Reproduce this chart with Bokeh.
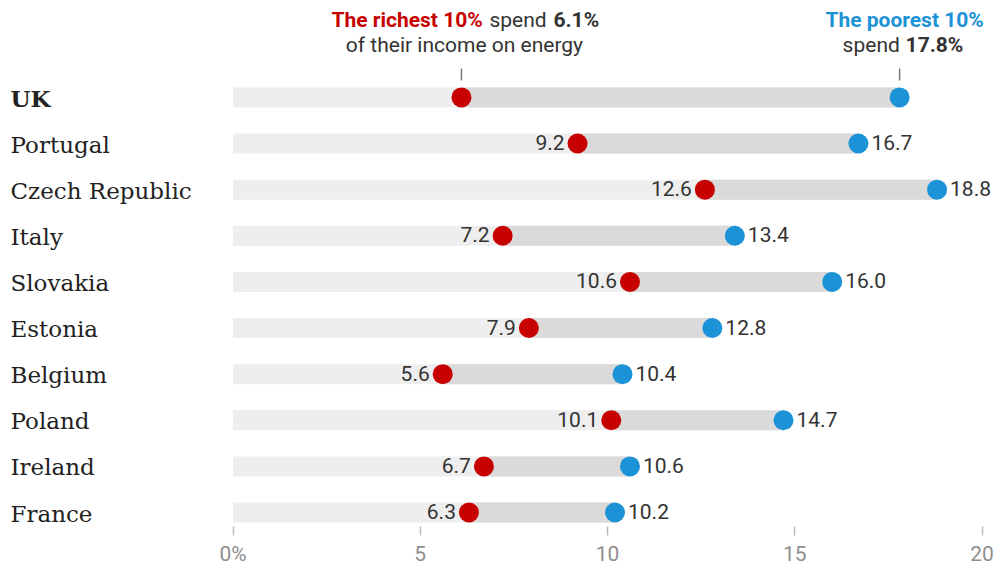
from bokeh.plotting import figure
from bokeh.models import Range1d, FixedTicker, ColumnDataSource
from bokeh.core.properties import value
from bokeh.embed import file_html
from bokeh.resources import INLINE

countries = ["UK", "Portugal", "Czech Republic", "Italy", "Slovakia",
             "Estonia", "Belgium", "Poland", "Ireland", "France"]
richest = [6.1, 9.2, 12.6, 7.2, 10.6, 7.9, 5.6, 10.1, 6.7, 6.3]
poorest = [17.8, 16.7, 18.8, 13.4, 16.0, 12.8, 10.4, 14.7, 10.6, 10.2]
tick_values = [0, 5, 10, 15, 20]
tick_labels = ["0%", "5", "10", "15", "20"]

RED = "#c70000"
BLUE = "#1c93d6"
DARK = "#333333"
SANS = "Roboto"
SERIF = "DejaVu Serif"

W, H = 999, 568
PX_PER_UNIT = 37.45
ZERO_PX = 232.5
ROW_PX = 46.17
FIRST_ROW_PX = 97.0
FRAME_BOTTOM_PX = 524.5

x_start = -ZERO_PX / PX_PER_UNIT
x_end = (W - ZERO_PX) / PX_PER_UNIT
y_top = -FIRST_ROW_PX / ROW_PX
y_bottom = (FRAME_BOTTOM_PX - FIRST_ROW_PX) / ROW_PX


def ypx(px):
    return (px - FIRST_ROW_PX) / ROW_PX


p = figure(width=W, height=H, output_backend="svg", toolbar_location=None,
           x_range=Range1d(x_start, x_end), y_range=Range1d(y_bottom, y_top),
           min_border=0, min_border_left=0, min_border_right=0, min_border_top=0,
           outline_line_color=None, background_fill_color="white",
           border_fill_color="white")
p.grid.visible = False
p.yaxis.visible = False

ax = p.xaxis[0]
ax.ticker = FixedTicker(ticks=tick_values)
ax.major_label_overrides = {v: l for v, l in zip(tick_values, tick_labels)}
ax.axis_line_color = None
ax.major_tick_line_color = "#bbbbbb"
ax.major_tick_line_width = 1.5
ax.major_tick_in = -2
ax.major_tick_out = 11
ax.minor_tick_line_color = None
ax.major_label_standoff = 6
ax.major_label_text_font = SANS
ax.major_label_text_font_size = "21px"
ax.major_label_text_color = "#8f8f8f"

rows = list(range(len(countries)))
src = ColumnDataSource(dict(y=rows, r=richest, pr=poorest, zero=[0] * len(rows)))

bar_h = 20 / ROW_PX
p.hbar(y="y", left="zero", right="pr", height=bar_h, source=src,
       fill_color="#eeeeee", line_color=None)
p.hbar(y="y", left="r", right="pr", height=bar_h, source=src,
       fill_color="#dadada", line_color=None)
p.scatter(x="r", y="y", size=20, source=src, fill_color=RED, line_color=None)
p.scatter(x="pr", y="y", size=20, source=src, fill_color=BLUE, line_color=None)

# value labels (UK is annotated in the header instead)
vsrc = ColumnDataSource(dict(y=rows[1:], r=richest[1:], pr=poorest[1:],
                             rl=["%.1f" % v for v in richest[1:]],
                             pl=["%.1f" % v for v in poorest[1:]]))
p.text(x="r", y="y", text="rl", source=vsrc, x_offset=-13, y_offset=-1,
       text_align="right", text_baseline="middle",
       text_font=value(SANS), text_font_size="21px", text_color=DARK)
p.text(x="pr", y="y", text="pl", source=vsrc, x_offset=13, y_offset=-1,
       text_align="left", text_baseline="middle",
       text_font=value(SANS), text_font_size="21px", text_color=DARK)

# country labels
label_x = (10 - ZERO_PX) / PX_PER_UNIT
p.text(x=[label_x] * (len(rows) - 1), y=rows[1:], text=countries[1:],
       y_offset=1, text_align="left", text_baseline="middle",
       text_font=value(SERIF), text_font_size="23px", text_color="#222222")
p.text(x=[label_x], y=[rows[0]], text=[countries[0]],
       y_offset=1, text_align="left", text_baseline="middle",
       text_font=value(SERIF), text_font_size="23px", text_font_style="bold",
       text_color="#222222")

# header annotations
line1_y = ypx(19.5)
line2_y = ypx(44.5)
hx_r = richest[0]
hx_p = poorest[0]
fs = "21px"


def htext(x, y, t, xoff, color, bold=False, align="left"):
    p.text(x=[x], y=[y], text=[t], x_offset=xoff, text_align=align,
           text_baseline="middle", text_font=value(SANS), text_font_size=fs,
           text_color=color, text_font_style="bold" if bold else "normal")


htext(hx_r, line1_y, "The richest 10%", -130, RED, True)
htext(hx_r, line1_y, "spend", 28, DARK)
htext(hx_r, line1_y, "%.1f%%" % richest[0], 92, DARK, True)
htext(hx_r, line2_y, "of their income on energy", 3, DARK, False, "center")

htext(hx_p, line1_y, "The poorest 10%", 5, BLUE, True, "center")
htext(hx_p, line2_y, "spend", -57, DARK)
htext(hx_p, line2_y, "%.1f%%" % poorest[0], 6, DARK, True)

p.segment(x0=[hx_r, hx_p], y0=[ypx(68)] * 2, x1=[hx_r, hx_p],
          y1=[ypx(80)] * 2, line_color="#777777", line_width=1.5)

open("out.html", "w").write(file_html(p, INLINE))
